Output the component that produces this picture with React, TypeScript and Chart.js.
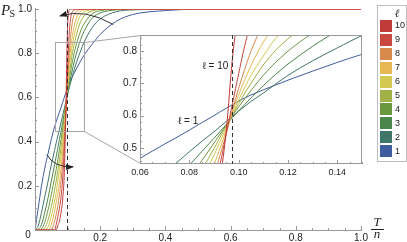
import React, { useEffect, useRef } from 'react';
import { Chart, registerables } from 'chart.js';

Chart.register(...registerables);

const SANS = '"Liberation Sans", Arial, Helvetica, sans-serif';
const SERIF = '"Liberation Serif", "Times New Roman", serif';

// ---- data ----
const ELLS = [1, 2, 3, 4, 5, 6, 7, 8, 9, 10];
const COLORS = ['#3f5c9e', '#3f7668', '#4b864a', '#6c9741', '#a2b146', '#d4c950', '#e6b752', '#d8894c', '#c8483f', '#c13a3a'];

const TEMPS = [0, 0.01, 0.02, 0.03, 0.04, 0.05, 0.06, 0.065, 0.07, 0.075, 0.08, 0.085, 0.09, 0.0925, 0.095, 0.0975, 0.1, 0.1025, 0.105, 0.11, 0.115, 0.12, 0.13, 0.14, 0.15, 0.175, 0.2, 0.25, 0.3, 0.4, 0.5, 0.7, 1.0];

const PS_L1 = [0, 0.10, 0.20, 0.28, 0.345, 0.41, 0.467, 0.49, 0.512, 0.533, 0.555, 0.578, 0.60, 0.612, 0.623, 0.634, 0.645, 0.655, 0.664, 0.68, 0.695, 0.71, 0.738, 0.765, 0.79, 0.84, 0.885, 0.945, 0.975, 0.993, 0.999, 1, 1];
const PS_L2 = [0, 0.02, 0.08, 0.15, 0.22, 0.295, 0.36, 0.395, 0.425, 0.455, 0.488, 0.52, 0.55, 0.566, 0.582, 0.598, 0.614, 0.629, 0.644, 0.67, 0.698, 0.725, 0.77, 0.81, 0.848, 0.915, 0.955, 0.988, 0.996, 0.999, 1, 1, 1];
const PS_L3 = [0, 0.003, 0.025, 0.08, 0.145, 0.22, 0.295, 0.333, 0.37, 0.41, 0.447, 0.488, 0.53, 0.551, 0.573, 0.594, 0.615, 0.635, 0.655, 0.693, 0.728, 0.76, 0.815, 0.862, 0.898, 0.958, 0.982, 0.996, 0.999, 1, 1, 1, 1];
const PS_L4 = [0, 0, 0.005, 0.035, 0.09, 0.16, 0.235, 0.275, 0.318, 0.364, 0.41, 0.46, 0.515, 0.543, 0.572, 0.6, 0.627, 0.653, 0.678, 0.725, 0.765, 0.8, 0.856, 0.9, 0.932, 0.978, 0.992, 0.999, 1, 1, 1, 1, 1];
const PS_L5 = [0, 0, 0, 0.01, 0.045, 0.105, 0.18, 0.222, 0.268, 0.318, 0.372, 0.432, 0.498, 0.533, 0.568, 0.603, 0.637, 0.67, 0.70, 0.757, 0.803, 0.838, 0.9, 0.942, 0.968, 0.991, 0.998, 1, 1, 1, 1, 1, 1];
const PS_L6 = [0, 0, 0, 0, 0.015, 0.062, 0.13, 0.17, 0.222, 0.275, 0.335, 0.402, 0.478, 0.52, 0.563, 0.607, 0.648, 0.688, 0.725, 0.785, 0.84, 0.878, 0.938, 0.972, 0.986, 0.997, 1, 1, 1, 1, 1, 1, 1];
const PS_L7 = [0, 0, 0, 0, 0, 0.025, 0.085, 0.125, 0.165, 0.215, 0.28, 0.36, 0.448, 0.5, 0.555, 0.612, 0.665, 0.712, 0.755, 0.828, 0.88, 0.92, 0.972, 0.99, 0.996, 1, 1, 1, 1, 1, 1, 1, 1];
const PS_L8 = [0, 0, 0, 0, 0, 0, 0.04, 0.07, 0.11, 0.16, 0.225, 0.31, 0.415, 0.478, 0.545, 0.618, 0.685, 0.745, 0.8, 0.885, 0.945, 0.975, 0.992, 0.998, 1, 1, 1, 1, 1, 1, 1, 1, 1];
const PS_L9 = [0, 0, 0, 0, 0, 0, 0, 0.025, 0.06, 0.1, 0.15, 0.235, 0.37, 0.45, 0.545, 0.638, 0.73, 0.818, 0.89, 0.965, 0.988, 0.996, 1, 1, 1, 1, 1, 1, 1, 1, 1, 1, 1];
const PS_L10 = [0, 0, 0, 0, 0, 0, 0, 0, 0.02, 0.04, 0.08, 0.14, 0.26, 0.4, 0.555, 0.78, 0.92, 0.978, 0.994, 1, 1, 1, 1, 1, 1, 1, 1, 1, 1, 1, 1, 1, 1];
const SERIES = [PS_L1, PS_L2, PS_L3, PS_L4, PS_L5, PS_L6, PS_L7, PS_L8, PS_L9, PS_L10];

const MAIN_X_TICKS = [0, 0.2, 0.4, 0.6, 0.8, 1.0];
const MAIN_Y_TICKS = [0, 0.2, 0.4, 0.6, 0.8, 1.0];
const INSET_X_TICKS = [0.06, 0.08, 0.1, 0.12, 0.14];
const INSET_Y_TICKS = [0.5, 0.6, 0.7, 0.8];
const ZOOM_X = [0.06, 0.15];
const ZOOM_Y = [0.45, 0.85];
const T_CRIT = 0.0972;
const ARROW_TOP = [[0.240, 0.930], [0.153, 1.004], [0.0767, 0.969]];
const ARROW_BOTTOM = [[0.0359, 0.342], [0.0583, 0.281], [0.1166, 0.286]];
const LABEL_L10 = [0.0958, 0.754];
const LABEL_L1 = [0.0795, 0.584];

// ---- layout ----
const W = 407;
const H = 242;
const INSET_LEFT = 112;
const INSET_TOP = 26;
const INSET_W = 252;
const INSET_H = 156;
const AXIS = '#9a9a9a';
const TEXT = '#222';

function axisOpts(min: number, max: number, ticks: number[], fmt: (v: number) => string, pad: number, size: number, fit: number, isX: boolean) {
  return {
    type: 'linear',
    min,
    max,
    grid: { display: false, drawTicks: false },
    border: { display: false },
    ticks: {
      autoSkip: false,
      maxRotation: 0,
      padding: pad,
      color: TEXT,
      font: { family: SANS, size },
      callback: (v: any) => fmt(Number(v)),
    },
    afterBuildTicks: (s: any) => {
      s.ticks = ticks.map((v) => ({ value: v }));
    },
    afterFit: (s: any) => {
      if (isX) s.height = fit;
      else s.width = fit;
    },
  };
}

function makeDatasets() {
  return ELLS.map((l, k) => ({
    label: String(l),
    data: TEMPS.map((t, i) => ({ x: t, y: SERIES[k][i] })),
    borderColor: COLORS[k],
    backgroundColor: COLORS[k],
    borderWidth: 1,
    pointRadius: 0,
    fill: false,
    cubicInterpolationMode: 'monotone',
    order: 10 - l,
  }));
}

function hLine(ctx: CanvasRenderingContext2D, x0: number, x1: number, y: number) {
  const yy = Math.round(y) + 0.5;
  ctx.beginPath();
  ctx.moveTo(x0, yy);
  ctx.lineTo(x1, yy);
  ctx.stroke();
}
function vLine(ctx: CanvasRenderingContext2D, x: number, y0: number, y1: number) {
  const xx = Math.round(x) + 0.5;
  ctx.beginPath();
  ctx.moveTo(xx, y0);
  ctx.lineTo(xx, y1);
  ctx.stroke();
}

function drawArrow(ctx: CanvasRenderingContext2D, X: (v: number) => number, Y: (v: number) => number, pts: number[][]) {
  const [p0, c, p2] = pts.map(([a, b]) => [X(a), Y(b)]);
  ctx.beginPath();
  ctx.moveTo(p0[0], p0[1]);
  ctx.quadraticCurveTo(c[0], c[1], p2[0], p2[1]);
  ctx.stroke();
  const ang = Math.atan2(p2[1] - c[1], p2[0] - c[0]);
  const L = 7;
  const Wd = 3;
  const bx = p2[0] - L * Math.cos(ang);
  const by = p2[1] - L * Math.sin(ang);
  ctx.beginPath();
  ctx.moveTo(p2[0] + 1 * Math.cos(ang), p2[1] + 1 * Math.sin(ang));
  ctx.lineTo(bx + Wd * Math.sin(ang), by - Wd * Math.cos(ang));
  ctx.lineTo(bx - Wd * Math.sin(ang), by + Wd * Math.cos(ang));
  ctx.closePath();
  ctx.fill();
}

function makeInsetPlugin() {
  return {
    id: 'insetDecor',
    beforeDraw(chart: any) {
      const { left, right, top, bottom } = chart.chartArea;
      const ctx = chart.ctx;
      ctx.save();
      ctx.fillStyle = '#fff';
      ctx.fillRect(left, top, right - left, bottom - top);
      ctx.restore();
    },
    afterDraw(chart: any) {
      const ctx: CanvasRenderingContext2D = chart.ctx;
      const xs = chart.scales.x;
      const ys = chart.scales.y;
      const X = (v: number) => xs.getPixelForValue(v);
      const Y = (v: number) => ys.getPixelForValue(v);
      const { left, right, top, bottom } = chart.chartArea;
      ctx.save();
      ctx.strokeStyle = AXIS;
      ctx.lineWidth = 1;
      ctx.strokeRect(Math.round(left) + 0.5, Math.round(top) + 0.5, Math.round(right - left) - 1, Math.round(bottom - top) - 1);
      for (let i = 12; i <= 30; i++) {
        const v = i * 0.005;
        const len = i % 4 === 0 ? 4 : 2;
        vLine(ctx, X(v), bottom, bottom - len);
      }
      for (let i = 23; i <= 42; i++) {
        const v = i * 0.02;
        const len = i % 5 === 0 ? 4 : 2;
        hLine(ctx, left, left + len, Y(v));
      }
      // critical temperature
      ctx.strokeStyle = '#333';
      ctx.setLineDash([4, 3]);
      vLine(ctx, X(T_CRIT), top, bottom);
      ctx.setLineDash([]);
      // labels
      ctx.fillStyle = TEXT;
      ctx.font = `10px ${SANS}`;
      ctx.textBaseline = 'middle';
      ctx.textAlign = 'right';
      ctx.fillText('ℓ = 10', X(LABEL_L10[0]), Y(LABEL_L10[1]));
      ctx.textAlign = 'center';
      ctx.fillText('ℓ = 1', X(LABEL_L1[0]), Y(LABEL_L1[1]));
      ctx.restore();
    },
  };
}

function makeMainPlugin(inset: any) {
  return {
    id: 'mainDecor',
    afterDraw(chart: any) {
      const ctx: CanvasRenderingContext2D = chart.ctx;
      const xs = chart.scales.x;
      const ys = chart.scales.y;
      const X = (v: number) => xs.getPixelForValue(v);
      const Y = (v: number) => ys.getPixelForValue(v);
      const { left, right, top, bottom } = chart.chartArea;
      ctx.save();
      ctx.lineWidth = 1;
      ctx.strokeStyle = AXIS;
      // axes
      vLine(ctx, left, bottom + 0.5, top - 1);
      hLine(ctx, left, right + 1, bottom);
      for (let i = 0; i <= 20; i++) {
        const v = i * 0.05;
        const len = i % 4 === 0 ? 4 : 2;
        hLine(ctx, left, left + len, Y(v));
        vLine(ctx, X(v), bottom, bottom - len);
      }
      // zoom rectangle & connectors
      ctx.strokeStyle = '#a5a5a5';
      const rx0 = Math.round(X(ZOOM_X[0])) + 0.5;
      const rx1 = Math.round(X(ZOOM_X[1])) + 0.5;
      const ry0 = Math.round(Y(ZOOM_Y[1])) + 0.5;
      const ry1 = Math.round(Y(ZOOM_Y[0])) + 0.5;
      ctx.strokeRect(rx0, ry0, rx1 - rx0, ry1 - ry0);
      const ia = inset.chartArea;
      ctx.beginPath();
      ctx.moveTo(rx1, ry0);
      ctx.lineTo(INSET_LEFT + ia.left + 0.5, INSET_TOP + ia.top + 0.5);
      ctx.moveTo(rx1, ry1);
      ctx.lineTo(INSET_LEFT + ia.left + 0.5, INSET_TOP + ia.bottom - 0.5);
      ctx.stroke();
      // critical temperature
      ctx.strokeStyle = '#333';
      ctx.setLineDash([4, 3]);
      vLine(ctx, X(T_CRIT), Y(0), Y(1));
      ctx.setLineDash([]);
      // arrows
      ctx.strokeStyle = '#333';
      ctx.fillStyle = '#222';
      drawArrow(ctx, X, Y, ARROW_TOP);
      drawArrow(ctx, X, Y, ARROW_BOTTOM);
      // axis titles
      ctx.fillStyle = TEXT;
      ctx.textAlign = 'left';
      ctx.textBaseline = 'alphabetic';
      ctx.font = `italic 15px ${SERIF}`;
      ctx.fillText('P', 1, 15);
      ctx.font = `10px ${SERIF}`;
      ctx.fillText('S', 9.5, 17);
      const tx = right + 16;
      ctx.textAlign = 'center';
      ctx.font = `italic 13px ${SERIF}`;
      ctx.fillText('T', tx, bottom - 4);
      ctx.strokeStyle = TEXT;
      hLine(ctx, tx - 6, tx + 7, bottom - 1);
      ctx.fillText('n', tx, bottom + 8);
      // origin label
      ctx.font = `10px ${SANS}`;
      ctx.textBaseline = 'middle';
      ctx.fillText('0', left - 7, bottom + 5);
      // legend
      const lx = W - 30;
      const ly = 5;
      ctx.strokeStyle = '#bdbdbd';
      ctx.strokeRect(lx + 0.5, ly + 0.5, 29, 156);
      ctx.font = `italic 11px ${SERIF}`;
      ctx.textAlign = 'center';
      ctx.fillText('ℓ', lx + 20, ly + 9);
      ctx.font = `9px ${SANS}`;
      ctx.textAlign = 'left';
      for (let r = 0; r < ELLS.length; r++) {
        const k = ELLS.length - 1 - r;
        const cy = ly + 21 + r * 13.9;
        ctx.fillStyle = COLORS[k];
        ctx.fillRect(lx + 3, Math.round(cy - 6), 12, 12);
        ctx.fillStyle = TEXT;
        ctx.fillText(String(ELLS[k]), lx + 18, cy);
      }
      ctx.restore();
    },
  };
}

export default function App() {
  const mainRef = useRef<HTMLCanvasElement>(null);
  const insetRef = useRef<HTMLCanvasElement>(null);

  useEffect(() => {
    document.body.style.margin = '0';
    const inset = new Chart(insetRef.current as HTMLCanvasElement, {
      type: 'line',
      data: { datasets: makeDatasets() as any },
      options: {
        responsive: false,
        animation: false,
        devicePixelRatio: 1,
        layout: { padding: { top: 1, right: 2, left: 0, bottom: 0 } },
        plugins: { legend: { display: false }, tooltip: { enabled: false } },
        scales: {
          x: axisOpts(ZOOM_X[0], ZOOM_X[1], INSET_X_TICKS, (v) => v.toFixed(2), 3, 9, 18, true) as any,
          y: axisOpts(ZOOM_Y[0], ZOOM_Y[1], INSET_Y_TICKS, (v) => v.toFixed(1), 3, 10, 28, false) as any,
        },
      },
      plugins: [makeInsetPlugin()],
    });
    const main = new Chart(mainRef.current as HTMLCanvasElement, {
      type: 'line',
      data: { datasets: makeDatasets() as any },
      options: {
        responsive: false,
        animation: false,
        devicePixelRatio: 1,
        layout: { padding: { top: 6, right: 46, left: 0, bottom: 0 } },
        plugins: { legend: { display: false }, tooltip: { enabled: false } },
        scales: {
          x: axisOpts(0, 1, MAIN_X_TICKS, (v) => (v === 0 ? '' : v.toFixed(1)), 2, 10, 12, true) as any,
          y: axisOpts(0, 1, MAIN_Y_TICKS, (v) => (v === 0 ? '' : v.toFixed(1)), 3, 10, 35, false) as any,
        },
      },
      plugins: [makeMainPlugin(inset)],
    });
    return () => {
      main.destroy();
      inset.destroy();
    };
  }, []);

  return (
    <div style={{ position: 'relative', width: W, height: H }}>
      <canvas ref={mainRef} width={W} height={H} style={{ position: 'absolute', left: 0, top: 0 }} />
      <canvas ref={insetRef} width={INSET_W} height={INSET_H} style={{ position: 'absolute', left: INSET_LEFT, top: INSET_TOP }} />
    </div>
  );
}
